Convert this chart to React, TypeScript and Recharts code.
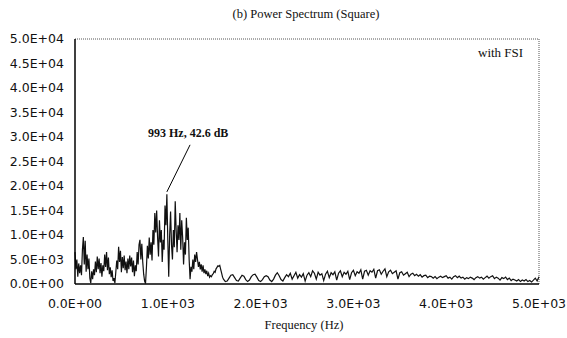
import React from 'react';
import { LineChart, Line, XAxis, YAxis, ReferenceLine } from 'recharts';

// spectrum below 1600 Hz, one value every 10 Hz (each row = 100 Hz)
const lowBand = [
  6500, 3000, 5000, 1500, 4200, 2200, 3800, 1800, 7000, 9600,
  4000, 8800, 2500, 6000, 3000, 5200, 1200, 200, 2600, 1000,
  3000, 1800, 4600, 2400, 5600, 3000, 5200, 2200, 4300, 1500,
  3800, 2600, 6000, 3500, 6500, 2800, 5400, 2000, 3400, 1400,
  2800, 600, 1200, 200, 2500, 4800, 3000, 7600, 4500, 6800,
  2400, 5500, 3200, 5800, 2800, 4600, 2200, 5200, 3000, 5800,
  3600, 5400, 2400, 4800, 1600, 3800, 2600, 6500, 4000, 8000,
  9000, 5000, 8200, 4500, 2000, 600, 100, 3500, 7800, 5200,
  9500, 6000, 8500, 4800, 11000, 8000, 14500, 10500, 15000, 9500,
  5600, 13000, 8500, 11000, 4500, 9000, 7000, 16000, 12000, 18300,
  9000, 1500, 10000, 14800, 8000, 5000, 11000, 7500, 16900, 11000,
  6500, 12000, 9000, 14500, 7000, 13000, 9500, 4000, 8500, 6000,
  13500, 9000, 11500, 5000, 1000, 3500, 2500, 5000, 3000, 6000,
  4500, 6500, 5000, 3500, 4500, 3000, 4000, 2500, 3800, 2200,
  3000, 2000, 2700, 1600, 2200, 1400, 1700, 1500, 1900, 2100,
  2600, 2400, 3100, 3400, 3700, 3600, 3800, 3000, 2200, 1400,
];

// spectrum from 1600 Hz to 5000 Hz, one value every 20 Hz (each row = 200 Hz)
const highBand = [
  1000, 500, 600, 1200, 1800, 1900, 1300, 700, 600, 1200,
  1800, 1600, 900, 500, 800, 1500, 1900, 2000, 1400, 700,
  500, 900, 1500, 1700, 1500, 800, 500, 1000, 1800, 2300,
  1700, 900, 600, 1300, 1900, 1500, 2200, 1000, 1700, 2400,
  1200, 1900, 1400, 2100, 600, 1800, 2300, 1500, 2700, 2200,
  1000, 2400, 1800, 2100, 700, 2000, 2600, 1300, 2300, 1900,
  2500, 800, 2200, 2700, 1500, 2400, 2000, 2600, 900, 2300,
  2800, 1700, 2500, 2200, 2900, 1000, 2600, 2800, 1800, 2700,
  2400, 3000, 1200, 2700, 2900, 2000, 2600, 3100, 1500, 2500,
  2800, 2100, 2400, 2700, 1000, 2300, 2500, 1800, 2100, 2400,
  1500, 2000, 2200, 1700, 2000, 1600, 1900, 1400, 1700, 1800,
  1300, 1600, 1500, 1200, 1500, 1100, 1400, 1600, 1300, 1500,
  1700, 1200, 1400, 1000, 1500, 1700, 1300, 1600, 1200, 1400,
  1000, 1300, 1100, 1400, 1200, 900, 1300, 1500, 1200, 1400,
  1000, 1300, 1600, 1200, 1500, 1700, 1100, 1400, 1200, 800,
  1300, 1100, 1400, 900, 1200, 700, 1000, 800, 600, 900,
  500, 800, 600, 900, 500, 700, 400, 800, 1200, 600,
  1500,
];

const xTicks = [0, 1000, 2000, 3000, 4000, 5000];
const yTicks = [0, 5000, 10000, 15000, 20000, 25000, 30000, 35000, 40000, 45000, 50000];

const data = [
  ...lowBand.map((p, i) => ({ f: i * 10, p })),
  ...highBand.map((p, i) => ({ f: 1600 + i * 20, p })),
];

// 1000 -> "1.0E+03"
const sci = (v: number) => {
  const [m, e] = v.toExponential(1).split('e');
  const sign = e[0] === '-' ? '-' : '+';
  const digits = e.replace(/[+-]/, '').padStart(2, '0');
  return `${m}E${sign}${digits}`;
};

const serif = '"Liberation Serif", "Times New Roman", serif';
const tickStyle = { fontFamily: '"DejaVu Sans", sans-serif', fontSize: 12.5, fill: '#111' };

export default function App() {
  return (
    <div style={{ position: 'absolute', left: 0, top: 0, width: 567, height: 338, background: '#fff' }}>
      <LineChart width={567} height={338} data={data} margin={{ top: 39, right: 28, bottom: 24, left: 0 }}>
        <XAxis
          dataKey="f"
          type="number"
          domain={[0, 5000]}
          ticks={xTicks}
          tickFormatter={sci}
          tick={tickStyle}
          tickLine={false}
          tickSize={0}
          tickMargin={15}
          height={30}
          axisLine={{ stroke: '#000', strokeWidth: 1.5 }}
          interval={0}
        />
        <YAxis
          type="number"
          domain={[0, 50000]}
          ticks={yTicks}
          tickFormatter={sci}
          tick={tickStyle}
          tickLine={false}
          tickSize={0}
          tickMargin={11}
          width={75}
          axisLine={{ stroke: '#000', strokeWidth: 1.5 }}
          interval={0}
        />
        <ReferenceLine y={50000} stroke="#555" strokeDasharray="1 1" />
        <ReferenceLine x={5000} stroke="#555" strokeDasharray="1 1" />
        <ReferenceLine
          segment={[{ x: 990, y: 18800 }, { x: 1240, y: 28400 }]}
          stroke="#000"
          strokeWidth={1}
        />
        <Line
          dataKey="p"
          type="linear"
          stroke="#111"
          strokeWidth={1.2}
          dot={false}
          isAnimationActive={false}
        />
      </LineChart>

      <div style={{ position: 'absolute', left: 306, top: 7, transform: 'translateX(-50%)', whiteSpace: 'nowrap', fontFamily: serif, fontSize: 12.5, color: '#111' }}>
        (b) Power Spectrum (Square)
      </div>
      <div style={{ position: 'absolute', left: 478, top: 45, whiteSpace: 'nowrap', fontFamily: serif, fontSize: 13, color: '#111' }}>
        with FSI
      </div>
      <div style={{ position: 'absolute', left: 148, top: 126, whiteSpace: 'nowrap', fontFamily: serif, fontSize: 12, fontWeight: 'bold', color: '#111' }}>
        993 Hz, 42.6 dB
      </div>
      <div style={{ position: 'absolute', left: 304, top: 318, transform: 'translateX(-50%)', whiteSpace: 'nowrap', fontFamily: serif, fontSize: 12.5, color: '#111' }}>
        Frequency (Hz)
      </div>
    </div>
  );
}
